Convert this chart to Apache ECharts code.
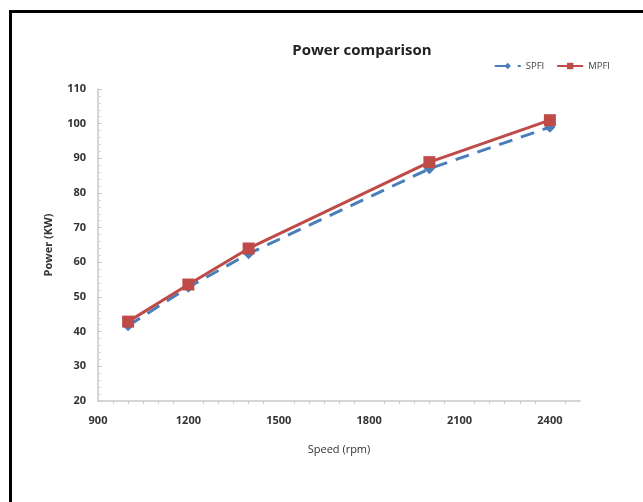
<!DOCTYPE html>
<html>
<head>
<meta charset="utf-8">
<script src="https://cdn.jsdelivr.net/npm/echarts@6/dist/echarts.min.js"></script>
<style>
html,body{margin:0;padding:0;background:#fff;}
#c{width:643px;height:502px;}
</style>
</head>
<body>
<div id="c"></div>
<script>
const speeds = [1000, 1200, 1400, 2000, 2400];
const spfi = [41.7, 52.8, 62.5, 87, 99];
const mpfi = [42.9, 53.6, 64, 88.9, 101];
const seriesNames = ['SPFI', 'MPFI'];
const titleText = 'Power comparison';
const xName = 'Speed (rpm)';
const yName = 'Power (KW)';

const chart = echarts.init(document.getElementById('c'));
const font = 'Open Sans, sans-serif';
chart.setOption({
  animation: false,
  backgroundColor: '#fff',
  graphic: [{
    type: 'rect', left: 8, top: 9, silent: true,
    shape: { width: 700, height: 600 },
    style: { fill: 'none', stroke: '#000', lineWidth: 3 }
  }],
  title: {
    text: titleText, left: 357, top: 38, textAlign: 'center',
    textStyle: { fontFamily: font, fontSize: 15, fontWeight: 'bold', color: '#222' }
  },
  legend: {
    data: seriesNames, right: 28, top: 56, itemGap: 12, itemWidth: 26, itemHeight: 8,
    textStyle: { fontFamily: font, fontSize: 9.5, color: '#444' }
  },
  grid: { left: 98, right: 63, top: 89, bottom: 101 },
  xAxis: {
    type: 'value', min: 900, max: 2500, interval: 300,
    name: xName, nameLocation: 'middle', nameGap: 43,
    nameTextStyle: { fontFamily: font, fontSize: 11, color: '#333' },
    axisLine: { lineStyle: { color: '#c8c8c8', width: 1.5 } },
    axisTick: { show: false },
    minorTick: { show: true, splitNumber: 6, length: 3, lineStyle: { color: '#c8c8c8' } },
    splitLine: { show: false },
    axisLabel: { fontFamily: font, fontSize: 11, fontWeight: 'bold', color: '#333', margin: 14, showMaxLabel: false,
      formatter: v => String(v) }
  },
  yAxis: {
    type: 'value', min: 20, max: 110, interval: 10,
    name: yName, nameLocation: 'middle', nameGap: 44, nameRotate: 90,
    nameTextStyle: { fontFamily: font, fontSize: 11, fontWeight: 'bold', color: '#333' },
    axisLine: { show: true, lineStyle: { color: '#c8c8c8', width: 1.5 } },
    axisTick: { show: true, length: 4, inside: true, lineStyle: { color: '#c8c8c8' } },
    minorTick: { show: true, splitNumber: 5, length: 3, lineStyle: { color: '#d8d8d8' } },
    splitLine: { show: false },
    axisLabel: { fontFamily: font, fontSize: 11, fontWeight: 'bold', color: '#333', margin: 12 }
  },
  series: [
    {
      name: seriesNames[0], type: 'line',
      data: speeds.map((s, i) => [s, spfi[i]]),
      symbol: 'diamond', symbolSize: 11,
      lineStyle: { color: '#4a7ebb', width: 3, type: [14, 9] },
      itemStyle: { color: '#4a7ebb' }
    },
    {
      name: seriesNames[1], type: 'line',
      data: speeds.map((s, i) => [s, mpfi[i]]),
      symbol: 'rect', symbolSize: 12,
      lineStyle: { color: '#be4b48', width: 3 },
      itemStyle: { color: '#be4b48' }
    }
  ]
});
</script>
</body>
</html>
